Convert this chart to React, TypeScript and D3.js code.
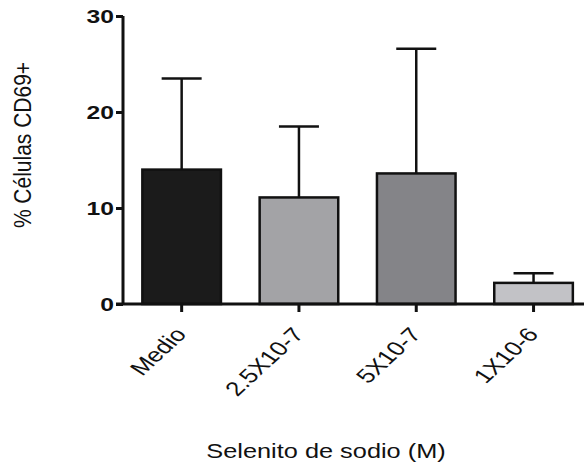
import React, { useEffect, useRef } from "react";
import * as d3 from "d3";

const categories = ["Medio", "2.5X10-7", "5X10-7", "1X10-6"];
const means = [14.0, 11.1, 13.6, 2.2];
const errUpper = [23.5, 18.5, 26.6, 3.2];
const fills = ["#1b1b1b", "#a3a3a6", "#848488", "#c2c2c6"];
const yTicks = [0, 10, 20, 30];

// the original figure is stretched horizontally
const SX = 1.3;

export default function App() {
  const ref = useRef<SVGSVGElement>(null);

  useEffect(() => {
    const width = 584,
      height = 468;
    const margin = { top: 16, left: 123, bottom: 164 };

    const svg = d3.select(ref.current);
    svg.selectAll("*").remove();

    const y = d3
      .scaleLinear()
      .domain([0, 30])
      .range([height - margin.bottom, margin.top]);

    const x = d3
      .scaleBand()
      .domain(categories)
      .range([margin.left, margin.left + 4 * 117.3])
      .paddingInner(0.33)
      .paddingOuter(0.165);

    const font = "Liberation Sans, Arial, sans-serif";

    // Bars
    svg
      .selectAll("rect.bar")
      .data(categories)
      .enter()
      .append("rect")
      .attr("class", "bar")
      .attr("x", (d) => x(d)!)
      .attr("y", (d, i) => y(means[i]))
      .attr("width", x.bandwidth())
      .attr("height", (d, i) => y(0) - y(means[i]))
      .attr("fill", (d, i) => fills[i])
      .attr("stroke", "#111")
      .attr("stroke-width", 2.5);

    // Error bars (upper only)
    const eb = svg
      .selectAll("g.err")
      .data(categories)
      .enter()
      .append("g")
      .attr("class", "err")
      .attr("stroke", "#111")
      .attr("stroke-width", 2.5);
    eb.append("line")
      .attr("x1", (d) => x(d)! + x.bandwidth() / 2)
      .attr("x2", (d) => x(d)! + x.bandwidth() / 2)
      .attr("y1", (d, i) => y(means[i]))
      .attr("y2", (d, i) => y(errUpper[i]));
    eb.append("line")
      .attr("x1", (d) => x(d)! + x.bandwidth() / 2 - 20)
      .attr("x2", (d) => x(d)! + x.bandwidth() / 2 + 20)
      .attr("y1", (d, i) => y(errUpper[i]))
      .attr("y2", (d, i) => y(errUpper[i]));

    // Y axis
    const yAxis = svg
      .append("g")
      .attr("transform", `translate(${margin.left},0)`)
      .call(d3.axisLeft(y).tickValues(yTicks).tickSize(7).tickFormat(() => ""));
    yAxis.select(".domain").attr("stroke", "#111").attr("stroke-width", 3).attr("d", `M0,${y(30)}V${y(0)}`);
    yAxis.selectAll(".tick line").attr("stroke", "#111").attr("stroke-width", 3);
    svg
      .selectAll("text.ytick")
      .data(yTicks)
      .enter()
      .append("text")
      .attr("class", "ytick")
      .attr("transform", (d) => `translate(${margin.left - 9},${y(d)}) scale(${SX},1)`)
      .attr("text-anchor", "end")
      .attr("dy", "0.36em")
      .attr("fill", "#111")
      .style("font-family", font)
      .style("font-size", "19px")
      .style("font-weight", "bold")
      .text((d) => d);

    // X axis
    const xAxis = svg
      .append("g")
      .attr("transform", `translate(0,${y(0)})`)
      .call(d3.axisBottom(x).tickSize(8).tickSizeOuter(0).tickFormat(() => ""));
    xAxis.select(".domain").attr("stroke", "#111").attr("stroke-width", 3).attr("d", `M${margin.left - 7},0H${width}`);
    xAxis.selectAll(".tick line").attr("stroke", "#111").attr("stroke-width", 3);
    svg
      .selectAll("text.xtick")
      .data(categories)
      .enter()
      .append("text")
      .attr("class", "xtick")
      .attr(
        "transform",
        (d) => `translate(${x(d)! + x.bandwidth() / 2 + 6},335) scale(${SX},1) rotate(-50)`
      )
      .attr("text-anchor", "end")
      .attr("fill", "#111")
      .style("font-family", font)
      .style("font-size", "20px")
      .text((d) => d);

    // Axis titles
    svg
      .append("text")
      .attr("transform", `translate(31,145) scale(1.1,1) rotate(-90)`)
      .attr("text-anchor", "middle")
      .style("font-family", font)
      .style("font-size", "21px")
      .attr("fill", "#111")
      .text("% Células CD69+");

    svg
      .append("text")
      .attr("transform", `translate(326,458) scale(${SX},1)`)
      .attr("text-anchor", "middle")
      .style("font-family", font)
      .style("font-size", "19.5px")
      .attr("fill", "#111")
      .text("Selenito de sodio (M)");
  }, []);

  return (
    <svg
      ref={ref}
      width={584}
      height={468}
      style={{ position: "absolute", left: 0, top: 0, background: "#fff" }}
    />
  );
}
